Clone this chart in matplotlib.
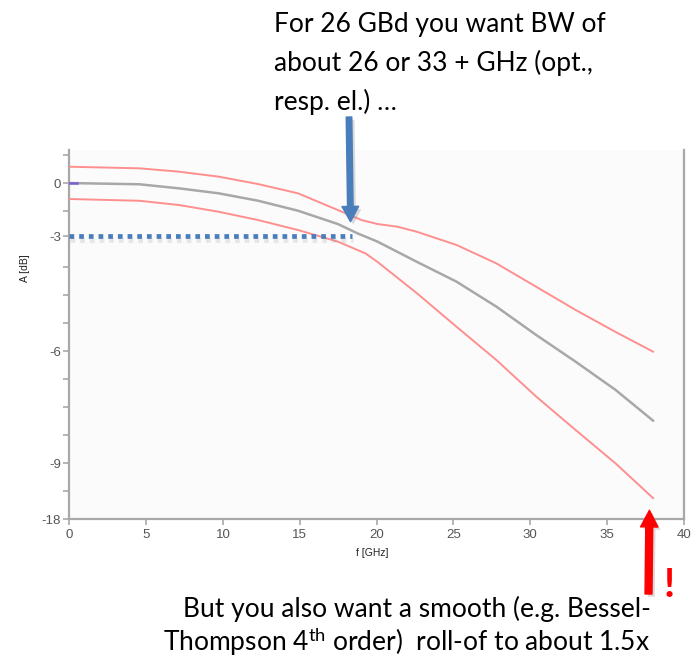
import numpy as np
import matplotlib
matplotlib.use("Agg")
import matplotlib.pyplot as plt
from matplotlib.ticker import FixedLocator, FixedFormatter, NullFormatter
import matplotlib.patheffects as pe

# ---- data -------------------------------------------------------------
# nominal response (grey)
f_nom = [0, 4.56, 7.14, 9.72, 12.30, 14.88, 17.47, 18.76, 20.05, 22.62, 25.21, 27.79, 30.38,
         32.96, 35.54, 38.0]
a_nom = [0, -0.07, -0.30, -0.58, -1.00, -1.56, -2.31, -2.84, -3.14, -3.67, -4.19, -4.84, -5.58,
         -6.29, -7.04, -7.87]

# upper tolerance limit (red)
f_up = [0, 4.56, 7.14, 9.72, 12.30, 14.88, 17.47, 19.02, 20.05, 21.34, 22.62, 25.21, 27.79,
        30.38, 32.96, 35.54, 38.0]
a_up = [0.92, 0.83, 0.64, 0.36, -0.06, -0.58, -1.52, -2.09, -2.31, -2.46, -2.75, -3.23, -3.71,
        -4.32, -4.93, -5.50, -6.02]

# lower tolerance limit (red)
f_lo = [0, 4.56, 7.14, 9.72, 12.30, 14.88, 17.47, 19.28, 20.05, 22.62, 25.21, 27.79, 30.38,
        32.96, 35.54, 38.0]
a_lo = [-0.90, -1.00, -1.24, -1.62, -2.09, -2.65, -3.14, -3.45, -3.67, -4.49, -5.37, -6.24,
        -7.22, -8.12, -9.05, -14.67]

# -3 dB bandwidth marker
bw_f = 18.4
bw_level = -3

x_ticks = [0, 5, 10, 15, 20, 25, 30, 35, 40]
y_ticks = [-18, -9, -6, -3, 0]
y_ticklabels = ["-18", "-9", "-6", "-3", "0"]

# ---- non-uniform level axis (labelled levels sit on these rows) --------
ROWS = np.array([0.0, 2.0, 6.0, 10.1, 12.0])
LEVELS = np.array(y_ticks, dtype=float)
top_slope = (ROWS[-1] - ROWS[-2]) / (LEVELS[-1] - LEVELS[-2])
bot_slope = (ROWS[1] - ROWS[0]) / (LEVELS[1] - LEVELS[0])


def to_rows(y):
    y = np.asarray(y, dtype=float)
    r = np.interp(y, LEVELS, ROWS)
    r = np.where(y > LEVELS[-1], ROWS[-1] + (y - LEVELS[-1]) * top_slope, r)
    r = np.where(y < LEVELS[0], ROWS[0] + (y - LEVELS[0]) * bot_slope, r)
    return r


def from_rows(r):
    r = np.asarray(r, dtype=float)
    y = np.interp(r, ROWS, LEVELS)
    y = np.where(r > ROWS[-1], LEVELS[-1] + (r - ROWS[-1]) / top_slope, y)
    y = np.where(r < ROWS[0], LEVELS[0] + (r - ROWS[0]) / bot_slope, y)
    return y


# ---- figure -------------------------------------------------------------
plt.rcParams["mathtext.fontset"] = "custom"
plt.rcParams["mathtext.rm"] = "Lato"
plt.rcParams["mathtext.it"] = "Lato:italic"

W, H = 696, 660
fig = plt.figure(figsize=(W / 100, H / 100), dpi=100)
fig.patch.set_facecolor("white")

ax = fig.add_axes([69.3 / W, (H - 519) / H, (684 - 69.3) / W, 369 / H])
ax.set_facecolor("#fbfbfb")
ax.set_yscale("function", functions=(to_rows, from_rows))
ax.set_xlim(0, 40)
ax.set_ylim(-18, float(from_rows(13.18)))

red = "#ff8f8f"
grey = "#a8a8a8"
ax.plot(f_up, a_up, color=red, lw=1.4, solid_capstyle="round", solid_joinstyle="round", zorder=3)
ax.plot(f_nom, a_nom, color=grey, lw=1.8, solid_capstyle="round", solid_joinstyle="round", zorder=3)
ax.plot(f_lo, a_lo, color=red, lw=1.4, solid_capstyle="round", solid_joinstyle="round", zorder=3)
ax.plot([0, 0.5], [0, 0], color="#7a5fd0", lw=1.8, zorder=4)

# dotted -3 dB line
blue = "#4a7ebb"
ax.plot([0, bw_f], [bw_level, bw_level], color=blue, lw=3.4, linestyle=(0, (1, 1.05)),
        dash_capstyle="butt", zorder=5, clip_on=False,
        path_effects=[pe.SimpleLineShadow(offset=(0.5, -2.5), shadow_color="#888888", alpha=0.18),
                      pe.Normal()])

# axes styling
for side in ("left", "bottom", "right"):
    ax.spines[side].set_color("#a8a8a8")
    ax.spines[side].set_linewidth(1.6)
ax.spines["top"].set_visible(False)

ax.xaxis.set_major_locator(FixedLocator(x_ticks))
ax.yaxis.set_major_locator(FixedLocator(y_ticks))
ax.yaxis.set_major_formatter(FixedFormatter(y_ticklabels))
minor_rows = [r for r in range(14) if min(abs(r - ROWS)) > 0.3]
ax.yaxis.set_minor_locator(FixedLocator(list(from_rows(minor_rows))))
ax.yaxis.set_minor_formatter(NullFormatter())
ax.tick_params(axis="both", which="both", direction="out", length=4, width=1.2,
               color="#a8a8a8", labelcolor="#555555", labelsize=9.5, right=False, top=False)
ax.tick_params(axis="x", pad=3)
ax.tick_params(axis="y", pad=2)
for lab in ax.get_xticklabels() + ax.get_yticklabels():
    lab.set_family("Liberation Sans")

fig.text(25 / W, 1 - 268 / H, "A [dB]", rotation=90, ha="center", va="center",
         fontsize=7.5, family="Liberation Sans", color="#222222")
fig.text(372 / W, 1 - 553 / H, "f [GHz]", ha="center", va="center",
         fontsize=7.5, family="Liberation Sans", color="#222222")

# annotation arrows
shadow = [pe.SimplePatchShadow(offset=(2, -2), shadow_rgbFace="#888888", alpha=0.3), pe.Normal()]
ax.annotate("", xy=(18.3, -2.18), xycoords="data",
            xytext=(349, H - 117), textcoords="figure pixels",
            arrowprops=dict(arrowstyle="simple,head_length=11,head_width=12,tail_width=4",
                            mutation_scale=1, color=blue, shrinkA=0, shrinkB=0,
                            path_effects=shadow),
            annotation_clip=False)
ax.annotate("", xy=(37.75, -16.6), xycoords="data",
            xytext=(648.5, H - 594), textcoords="figure pixels",
            arrowprops=dict(arrowstyle="simple,head_length=12,head_width=12.5,tail_width=5",
                            mutation_scale=1, color="#ff0000", shrinkA=0, shrinkB=0,
                            path_effects=shadow),
            annotation_clip=False)
fig.text(669 / W, 1 - 597 / H, "!", ha="center", va="baseline", fontsize=29,
         fontweight="bold", color="#ff0000", family="Lato")

# captions
top_lines = ["For 26 GBd you want BW of", "about 26 or 33 + GHz (opt.,", "resp. el.) \u2026"]
for i, line in enumerate(top_lines):
    fig.text(274 / W, 1 - (32 + 39 * i) / H, line, ha="left", va="baseline",
             fontsize=19, family="Lato", color="black")

fig.text(183 / W, 1 - 617 / H, "But you also want a smooth (e.g. Bessel-", ha="left",
         va="baseline", fontsize=19, family="Lato", color="black")
fig.text(163 / W, 1 - 651 / H, r"Thompson 4$^{\mathrm{th}}$ order)  roll-of to about 1.5x", ha="left",
         va="baseline", fontsize=19, family="Lato", color="black")

fig.savefig("out.png", dpi=100, facecolor="white")
